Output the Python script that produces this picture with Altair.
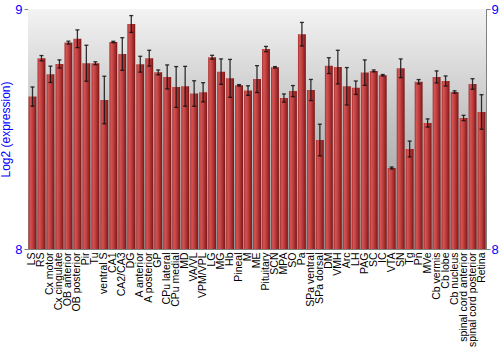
import altair as alt
import pandas as pd

regions = ["LS", "RS", "Cx motor", "Cx cingulate", "OB anterior", "OB posterior", "Pir", "Tu",
           "ventral S", "CA1", "CA2/CA3", "DG", "A anterior", "A posterior", "GP", "CPu lateral",
           "CPu medial", "MD", "VA/VL", "VPM/VPL", "LG", "MG", "Hb", "Pineal", "M", "ME",
           "Pituitary", "SCN", "MPA", "SO", "Pa", "SPa ventral", "SPa dorsal", "DM", "VMH", "Arc",
           "LH", "PAG", "SC", "IC", "VTA", "SN", "Tg", "Pn", "MVe", "Cb vermis", "Cb lobe",
           "Cb nucleus", "spinal cord anterior", "spinal cord posterior", "Retina"]

values = [8.635, 8.795, 8.728, 8.771, 8.860, 8.876, 8.774, 8.774, 8.621, 8.8625, 8.8125, 8.9375,
          8.770, 8.795, 8.736, 8.717, 8.675, 8.678, 8.648, 8.653, 8.799, 8.739, 8.711, 8.682,
          8.660, 8.708, 8.833, 8.757, 8.629, 8.658, 8.895, 8.6625, 8.454, 8.764, 8.758, 8.678,
          8.672, 8.735, 8.742, 8.724, 8.3375, 8.753, 8.4167, 8.697, 8.525, 8.717, 8.700, 8.654,
          8.546, 8.6875, 8.571]

errors = [0.040, 0.011, 0.034, 0.017, 0.006, 0.037, 0.075, 0.006, 0.099, 0.003, 0.068, 0.035,
          0.033, 0.033, 0.010, 0.050, 0.085, 0.083, 0.053, 0.040, 0.008, 0.053, 0.079, 0.003,
          0.020, 0.056, 0.011, 0.003, 0.017, 0.023, 0.049, 0.044, 0.066, 0.033, 0.070, 0.078,
          0.028, 0.053, 0.004, 0.003, 0.004, 0.039, 0.033, 0.009, 0.017, 0.025, 0.021, 0.005,
          0.011, 0.022, 0.072]

df = pd.DataFrame({"region": regions, "value": values, "err": errors})
df["lo"] = df["value"] - df["err"]
df["hi"] = df["value"] + df["err"]

W, H = 458, 240
BLUE = "#0000ff"

xenc = alt.X("region:N", sort=regions,
             scale=alt.Scale(paddingInner=0.12, paddingOuter=0.06),
             axis=alt.Axis(title=None, labelAngle=-90, labelFontSize=10.5, labelColor="black",
                           ticks=False, domain=False, labelPadding=3, labelOverlap=False,
                           labelLimit=0))
yscale = alt.Scale(domain=[8, 9], zero=False, nice=False)

bg = alt.Chart(pd.DataFrame({"a": [0]})).mark_rect(
    color=alt.LinearGradient(gradient="linear", x1=0, x2=0, y1=0, y2=1,
                             stops=[alt.GradientStop(color="#f3f3f3", offset=0),
                                    alt.GradientStop(color="#c4c4c4", offset=0.45),
                                    alt.GradientStop(color="#949494", offset=1)])
).encode(x=alt.value(0), x2=alt.value(W), y=alt.value(0), y2=alt.value(H))

bar_grad = alt.LinearGradient(gradient="linear", x1=0, x2=1, y1=0, y2=0,
                              stops=[alt.GradientStop(color="#a82e2e", offset=0),
                                     alt.GradientStop(color="#d25454", offset=0.22),
                                     alt.GradientStop(color="#c04040", offset=0.5),
                                     alt.GradientStop(color="#9a2626", offset=0.8),
                                     alt.GradientStop(color="#761616", offset=1)])

base = alt.Chart(df).encode(x=xenc)

bars = base.mark_bar(color=bar_grad, clip=True).encode(
    y=alt.Y("value:Q", scale=yscale,
            axis=alt.Axis(title="Log2 (expression)", titleColor=BLUE, titleFontSize=12,
                          titleFontWeight="normal", labelColor=BLUE, labelFontSize=13,
                          values=[8, 9], format="d", tickColor="#808080", tickSize=4,
                          labelPadding=2, domain=False,
                          grid=False, titleX=-15.5, titleY=H / 2, titleAlign="center",
                          titleBaseline="bottom", titleAngle=-90)),
    y2=alt.datum(8))

rules = base.mark_rule(color="#111111", strokeWidth=1.3, opacity=0.85).encode(
    y=alt.Y("lo:Q", scale=yscale,
            axis=alt.Axis(orient="right", title=None, labelColor=BLUE, labelFontSize=13,
                          values=[8, 9], format="d", tickColor="#808080", tickSize=4,
                          labelPadding=1, domain=False, grid=False)),
    y2="hi:Q")

cap_lo = base.mark_tick(color="#111111", size=4, thickness=1.3, opacity=0.85).encode(
    y=alt.Y("lo:Q", scale=yscale, axis=None))
cap_hi = base.mark_tick(color="#111111", size=4, thickness=1.3, opacity=0.85).encode(
    y=alt.Y("hi:Q", scale=yscale, axis=None))

chart = alt.layer(bg, bars, rules, cap_lo, cap_hi).resolve_axis(y="independent").properties(
    width=W, height=H,
    autosize=alt.AutoSizeParams(type="none"),
    padding={"left": 28, "top": 9, "right": 14, "bottom": 101},
).configure(font="Liberation Sans").configure_view(stroke="#808080", strokeWidth=1)

chart.save("out.html", embed_options={"renderer": "svg", "actions": False})
